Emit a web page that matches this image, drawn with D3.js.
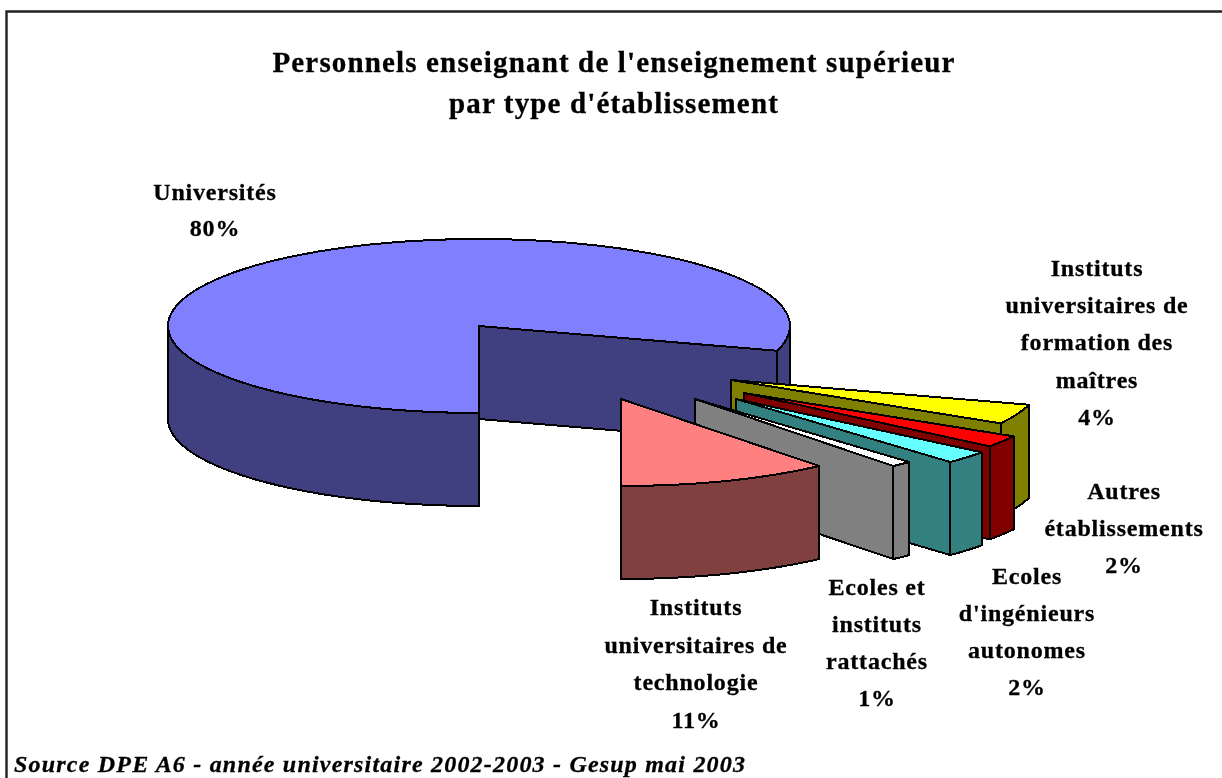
<!DOCTYPE html>
<html>
<head>
<meta charset="utf-8">
<script src="https://cdnjs.cloudflare.com/ajax/libs/d3/7.8.5/d3.min.js"></script>
<style>
  html, body { margin: 0; padding: 0; background: #fff; overflow: hidden; }
  text { font-family: "Liberation Serif", serif; font-weight: bold; fill: #000; stroke: #000; stroke-width: 0.3px; }
</style>
</head>
<body>
<div id="chart"></div>
<script>
// data (labels round these to 80, 4, 2, 2, 1, 11)
var categories = ["Universités", "Instituts universitaires de formation des maîtres", "Autres établissements",
  "Ecoles d'ingénieurs autonomes", "Ecoles et instituts rattachés", "Instituts universitaires de technologie"];
var shares = [79.6, 3.7, 2.2, 2.4, 1.1, 11.0];
var titleLines = ["Personnels enseignant de l'enseignement supérieur", "par type d'établissement"];
var sourceLine = "Source DPE A6 - année universitaire 2002-2003 - Gesup mai 2003";
var labelLines = [
  ["Universités", "80%"],
  ["Instituts", "universitaires de", "formation des", "maîtres", "4%"],
  ["Autres", "établissements", "2%"],
  ["Ecoles", "d'ingénieurs", "autonomes", "2%"],
  ["Ecoles et", "instituts", "rattachés", "1%"],
  ["Instituts", "universitaires de", "technologie", "11%"]
];

// colours of the top faces and the side faces
var topColors = ["#8080ff", "#ffff00", "#ff0000", "#66ffff", "#ffffff", "#ff8080"];
var sideColors = ["#404080", "#808000", "#800000", "#308080", "#808080", "#804040"];

// layout
var width = 1222, height = 778;
var cx = 479, cy = 326, rx = 311, ry = 87, depth = 93;
// how far each slice is pulled out of the pie
var explode = [[0, 0], [252, 54], [265, 67], [257, 73], [216, 73], [142, 73]];
// top of the first line of each label, centre x and line step
var labelPos = [
  {x: 215, y: 200, step: 36},
  {x: 1097, y: 276, step: 37.2},
  {x: 1124, y: 499, step: 37},
  {x: 1027, y: 584, step: 37},
  {x: 877, y: 595, step: 37},
  {x: 696, y: 615, step: 37.5}
];

var svg = d3.select("#chart").append("svg")
  .attr("width", width)
  .attr("height", height);

var defs = svg.append("defs");
defs.append("filter").attr("id", "soft")
  .append("feGaussianBlur").attr("stdDeviation", 0.45);

svg.append("rect").attr("width", width).attr("height", height).attr("fill", "#fff");

// frame, only top and left are drawn in the original
svg.append("path")
  .attr("d", "M6.5," + height + "V11.5H" + width)
  .attr("fill", "none")
  .attr("stroke", "#222")
  .attr("stroke-width", 2.4);

var chart = svg.append("g").attr("filter", "url(#soft)");

var pie = d3.pie().sort(null).startAngle(Math.PI).endAngle(3 * Math.PI);
var slices = pie(shares);
var arcTop = d3.arc().innerRadius(0).outerRadius(rx);
var line = d3.line();

function rim(a) {
  return [rx * Math.sin(a), -ry * Math.cos(a)];
}

// side wall between two angles, only the part that faces the viewer
function wallPath(a0, a1) {
  var top = d3.range(0, 41).map(function(i) { return rim(a0 + (a1 - a0) * i / 40); });
  var bottom = top.map(function(p) { return [p[0], p[1] + depth]; }).reverse();
  return line(top.concat(bottom)) + "Z";
}

var groups = chart.selectAll("g.slice")
  .data(slices)
  .enter()
  .append("g")
    .attr("class", "slice")
    .attr("shape-rendering", "crispEdges")
    .attr("transform", function(d, i) {
      return "translate(" + (cx + explode[i][0]) + "," + (cy + explode[i][1]) + ")";
    });

groups.each(function(d, i) {
  var g = d3.select(this);

  // cut face on the closing angle
  if (Math.sin(d.endAngle) > 0.01) {
    var p = rim(d.endAngle);
    g.append("path")
      .attr("d", line([[0, 0], p, [p[0], p[1] + depth], [0, depth]]) + "Z")
      .attr("fill", sideColors[i])
      .attr("stroke", "#000")
      .attr("stroke-width", 2)
      .attr("stroke-linejoin", "round");
  }

  // outer wall, front half only
  [0, 1].forEach(function(k) {
    var lo = Math.max(d.startAngle, Math.PI / 2 + 2 * Math.PI * k);
    var hi = Math.min(d.endAngle, 3 * Math.PI / 2 + 2 * Math.PI * k);
    if (hi > lo) {
      g.append("path")
        .attr("d", wallPath(lo, hi))
        .attr("fill", sideColors[i])
        .attr("stroke", "#000")
        .attr("stroke-width", 2)
        .attr("stroke-linejoin", "round");
    }
  });

  // top face
  g.append("path")
    .attr("d", arcTop(d))
    .attr("transform", "scale(1," + (ry / rx) + ")")
    .attr("fill", topColors[i])
    .attr("stroke", "#000")
    .attr("stroke-width", 2)
    .attr("stroke-linejoin", "round")
    .attr("vector-effect", "non-scaling-stroke");
});

// title
var text = svg.append("g").attr("filter", "url(#soft)");
text.selectAll("text.title")
  .data(titleLines)
  .enter()
  .append("text")
    .attr("class", "title")
    .attr("x", 614)
    .attr("y", function(d, i) { return 72 + i * 41; })
    .attr("text-anchor", "middle")
    .style("font-size", "29px")
    .style("letter-spacing", "1.15px")
    .text(function(d) { return d; });

// slice labels
labelLines.forEach(function(lines, i) {
  text.selectAll("text.label" + i)
    .data(lines)
    .enter()
    .append("text")
      .attr("class", "label" + i)
      .attr("x", labelPos[i].x)
      .attr("y", function(d, j) { return labelPos[i].y + j * labelPos[i].step; })
      .attr("text-anchor", "middle")
      .style("font-size", "24px")
      .style("letter-spacing", "0.8px")
      .text(function(d) { return d; });
});

// source line
text.append("text")
  .attr("x", 14)
  .attr("y", 772)
  .style("font-size", "24px")
  .style("font-style", "italic")
  .style("letter-spacing", "1.2px")
  .text(sourceLine);
</script>
</body>
</html>
